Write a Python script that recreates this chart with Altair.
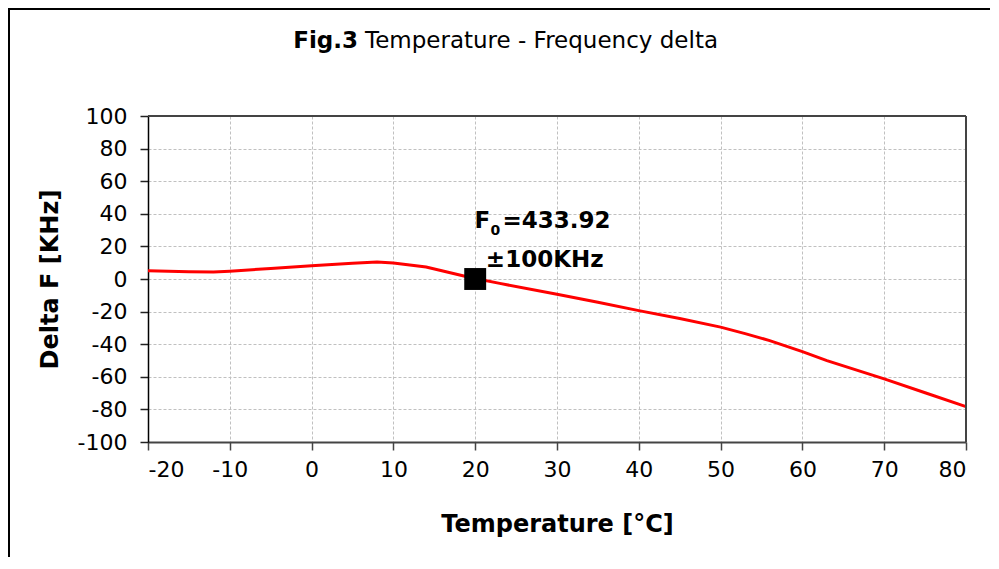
import altair as alt
import pandas as pd

# Data
temps = [-20, -15, -12, -10, -5, 0, 5, 8, 10, 14, 19, 20, 23, 30, 35, 40, 45, 50, 53, 56, 60, 63, 70, 75, 80]
delta = [5.0, 4.5, 4.3, 4.8, 6.5, 8.2, 9.6, 10.4, 9.8, 7.4, 1.4, 0.3, -2.7, -9.4, -14.3, -19.4, -24.2, -29.5, -33.5, -37.8, -44.6, -50.1, -61.3, -69.8, -78.3]

marker_t = [20]
marker_d = [0]

# annotation anchor points (data coords) and texts
ann1_t, ann1_d = 28.35, 31.3
ann2_t, ann2_d = 28.5, 7.5
ann1_parts = ["F", "0", "=433.92"]
ann2_text = "\u00b1100KHz"

x_ticks = [-20, -10, 0, 10, 20, 30, 40, 50, 60, 70, 80]
y_ticks = [-100, -80, -60, -40, -20, 0, 20, 40, 60, 80, 100]

FONT = "DejaVu Sans"
W, H = 818, 326
PAD = {"left": 140, "top": 108, "right": 24, "bottom": 115}

curve = pd.DataFrame({"t": temps, "d": delta})
marker = pd.DataFrame({"t": marker_t, "d": marker_d})
one = pd.DataFrame({"a": [1]})

xscale = alt.Scale(domain=[-20, 80], nice=False, zero=False)
yscale = alt.Scale(domain=[-100, 100], nice=False, zero=False)

common = dict(grid=True, gridColor="#c0c0c0", gridDash=[3, 2], gridWidth=1,
              tickWidth=1.5, tickSize=8, labelFont=FONT, labelFontSize=22,
              labelColor="black", labelOverlap=False,
              labelExpr="datum.value + ''",
              titleFont=FONT, titleFontSize=24, titleFontWeight="bold",
              titleColor="black")
xaxis = alt.Axis(values=x_ticks, tickCount=len(x_ticks), title="Temperature [°C]",
                 domainColor="#444", domainWidth=2, tickColor="#444",
                 labelPadding=9, titlePadding=32, **common)
yaxis = alt.Axis(values=y_ticks, tickCount=len(y_ticks), title="Delta F [KHz]",
                 domainColor="black", domainWidth=1.5, tickColor="#222",
                 labelPadding=13, titlePadding=15, **common)

line = alt.Chart(curve).mark_line(color="#ff0000", strokeWidth=3).encode(
    x=alt.X("t:Q", scale=xscale, axis=xaxis),
    y=alt.Y("d:Q", scale=yscale, axis=yaxis),
)

pt = alt.Chart(marker).mark_point(shape="square", filled=True, color="black",
                                  size=480, opacity=1).encode(
    x=alt.X("t:Q", scale=xscale, axis=xaxis),
    y=alt.Y("d:Q", scale=yscale, axis=yaxis),
)

ann1 = pd.DataFrame({"t": [ann1_t], "d": [ann1_d]})
ann2 = pd.DataFrame({"t": [ann2_t], "d": [ann2_d]})


def ann_text(df, text, dx, dy, size, align):
    return alt.Chart(df).mark_text(font=FONT, fontSize=size, fontWeight="bold",
                                   color="black", align=align, dx=dx, dy=dy,
                                   baseline="alphabetic").encode(
        x=alt.X("t:Q", scale=xscale, axis=xaxis),
        y=alt.Y("d:Q", scale=yscale, axis=yaxis),
        text=alt.value(text),
    )


t_F = ann_text(ann1, ann1_parts[0], -69, 0, 23, "left")
t_0 = ann_text(ann1, ann1_parts[1], -53, 7, 14, "left")
t_eq = ann_text(ann1, ann1_parts[2], -41, 0, 23, "left")
t_2 = ann_text(ann2, ann2_text, 0, 0, 23, "center")

title_bold = alt.Chart(one).mark_text(font=FONT, fontSize=23, fontWeight="bold",
                                      color="black", align="right",
                                      baseline="alphabetic").encode(
    x=alt.value(210), y=alt.value(-68), text=alt.value("Fig.3"))
title_reg = alt.Chart(one).mark_text(font=FONT, fontSize=23, color="black",
                                     align="left", baseline="alphabetic").encode(
    x=alt.value(217), y=alt.value(-68), text=alt.value("Temperature - Frequency delta"))

# outer chart frame (only top and left edges fall inside the picture)
frame_top = alt.Chart(one).mark_rule(color="black", strokeWidth=2).encode(
    x=alt.value(-139), x2=alt.value(W + PAD["right"] + 5), y=alt.value(-107))
frame_left = alt.Chart(one).mark_rule(color="black", strokeWidth=2).encode(
    x=alt.value(-139), y=alt.value(-108), y2=alt.value(H + PAD["bottom"] + 5))

# plot-area border (top and right)
border_top = alt.Chart(one).mark_rule(color="#444", strokeWidth=2).encode(
    x=alt.value(0), x2=alt.value(W), y=alt.value(0))
border_right = alt.Chart(one).mark_rule(color="#444", strokeWidth=2).encode(
    x=alt.value(W), y=alt.value(0), y2=alt.value(H))

chart = alt.layer(frame_top, frame_left, line, border_top, border_right, pt,
                  t_F, t_0, t_eq, t_2, title_bold, title_reg).properties(
    width=W, height=H,
    autosize=alt.AutoSizeParams(type="none"),
    padding=PAD,
    background="white",
).configure_view(stroke=None)

chart.save("out.html", embed_options={"renderer": "svg", "actions": False})
